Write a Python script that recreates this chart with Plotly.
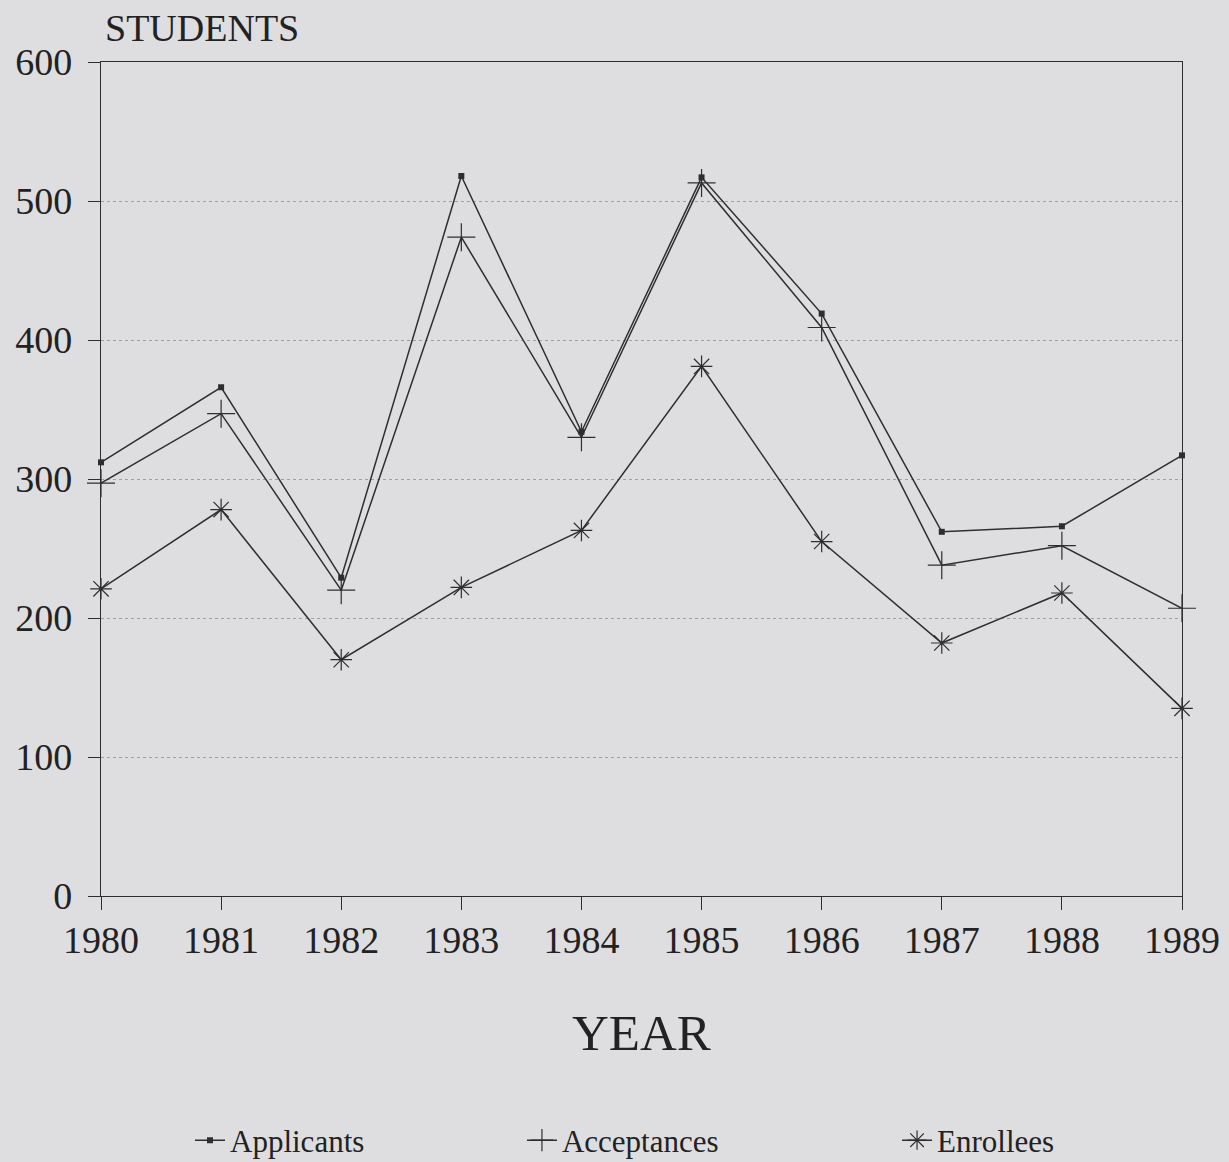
import plotly.graph_objects as go

years = [1980, 1981, 1982, 1983, 1984, 1985, 1986, 1987, 1988, 1989]
applicants = [312, 366, 229, 518, 334, 517, 419, 262, 266, 317]
acceptances = [297, 347, 220, 474, 330, 513, 409, 238, 252, 207]
enrollees = [221, 278, 170, 222, 263, 381, 255, 182, 218, 135]
y_ticks = [0, 100, 200, 300, 400, 500, 600]

INK = "#2e2e2e"
BG = "#dedee1"
FONT = "Liberation Serif"

fig = go.Figure()
fig.add_trace(go.Scatter(
    x=years, y=applicants, name="Applicants", mode="lines+markers",
    line=dict(color=INK, width=1.5),
    marker=dict(symbol="square", size=6, color=INK),
    cliponaxis=False, legend="legend"))
fig.add_trace(go.Scatter(
    x=years, y=acceptances, name="Acceptances", mode="lines+markers",
    line=dict(color=INK, width=1.5),
    marker=dict(symbol="cross-thin", size=20, color=INK, line=dict(color=INK, width=1.2)),
    cliponaxis=False, legend="legend2"))
fig.add_trace(go.Scatter(
    x=years, y=enrollees, name="Enrollees", mode="lines+markers",
    line=dict(color=INK, width=1.5),
    marker=dict(symbol="asterisk", size=18, color=INK, line=dict(color=INK, width=1.2)),
    cliponaxis=False, legend="legend3"))

leg_common = dict(orientation="h", yanchor="middle", xanchor="left",
                  xref="container", yref="container", y=0.0185,
                  bgcolor="rgba(0,0,0,0)", font=dict(family=FONT, size=31, color="#222"))

fig.update_layout(
    width=1229, height=1162,
    paper_bgcolor=BG, plot_bgcolor=BG,
    margin=dict(l=101, r=47, t=62, b=266, autoexpand=False),
    showlegend=True,
    legend=dict(x=0.1546, **leg_common),
    legend2=dict(x=0.4247, **leg_common),
    legend3=dict(x=0.7299, **leg_common),
    xaxis=dict(
        range=[1980, 1989], tickvals=years, ticktext=[str(y) for y in years],
        showgrid=False, zeroline=False, automargin=False,
        showline=True, linecolor=INK, linewidth=1.3, mirror=True,
        ticks="outside", ticklen=13, tickcolor=INK, tickwidth=1.2,
        ticklabelstandoff=-3,
        tickfont=dict(family=FONT, size=38, color="#222")),
    yaxis=dict(
        range=[0, 600], tickvals=y_ticks,
        showgrid=True, gridcolor="#a0a0a0", griddash="dot", gridwidth=1,
        zeroline=False, automargin=False,
        showline=True, linecolor=INK, linewidth=1.3, mirror=True,
        ticks="outside", ticklen=12, tickcolor=INK, tickwidth=1.2,
        ticklabelstandoff=8,
        tickfont=dict(family=FONT, size=38, color="#222")),
    annotations=[
        dict(text="STUDENTS", xref="paper", yref="paper", x=0.002, y=1.041,
             xanchor="left", yanchor="middle", showarrow=False,
             font=dict(family=FONT, size=38, color="#222")),
        dict(text="YEAR", xref="paper", yref="paper", x=0.5, y=-0.164,
             xanchor="center", yanchor="middle", showarrow=False,
             font=dict(family=FONT, size=51, color="#222")),
    ],
)

fig.write_html(
    "out.html",
    config={"displayModeBar": False},
    post_script="document.body.style.margin='0';document.body.style.background='#dedee1';"
                "document.body.style.overflow='hidden';",
)
